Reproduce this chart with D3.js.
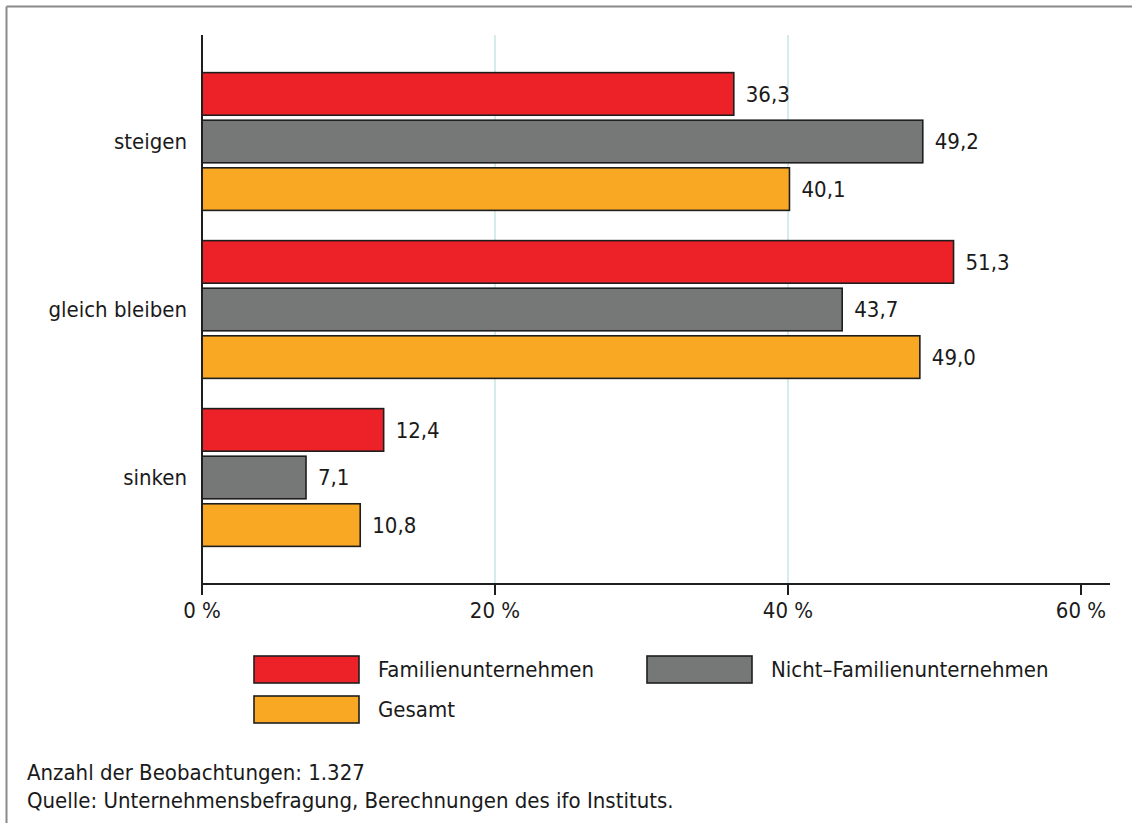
<!DOCTYPE html>
<html><head><meta charset="utf-8">
<script src="https://cdn.jsdelivr.net/npm/d3@7"></script>
<style>
html,body{margin:0;padding:0;background:#fff;}
text{font-family:"DejaVu Sans Condensed","Liberation Sans Narrow","Liberation Sans",sans-serif;fill:#1a1a1a;}
</style></head>
<body><svg id="c" width="1132" height="823"></svg>
<script>
const categories = ["steigen", "gleich bleiben", "sinken"];
const seriesNames = ["Familienunternehmen", "Nicht\u2013Familienunternehmen", "Gesamt"];
const familien = [36.3, 51.3, 12.4];
const nichtFamilien = [49.2, 43.7, 7.1];
const gesamt = [40.1, 49.0, 10.8];
const tickValues = [0, 20, 40, 60];
const colors = ["#ED2229", "#767878", "#F9A824"];
const footer = ["Anzahl der Beobachtungen: 1.327", "Quelle: Unternehmensbefragung, Berechnungen des ifo Instituts."];

const series = [familien, nichtFamilien, gesamt];
const svg = d3.select("#c");
const FS = 22;

// frame (top + left)
svg.append("line").attr("x1",6.5).attr("x2",1132).attr("y1",6.5).attr("y2",6.5).attr("stroke","#8a8a8a").attr("stroke-width",2);
svg.append("line").attr("x1",6.5).attr("x2",6.5).attr("y1",6.5).attr("y2",823).attr("stroke","#8a8a8a").attr("stroke-width",2);

const x = d3.scaleLinear().domain([0,60]).range([202,1081]);
const yTop = 35, yBot = 584;
const y0 = d3.scaleBand().domain(categories).range([yTop,yBot]).paddingInner(0.18).paddingOuter(0.224);
const y1 = d3.scaleBand().domain([0,1,2]).range([0,y0.bandwidth()]).paddingInner(0.105).paddingOuter(0);

// gridlines
svg.append("g").selectAll("line").data(tickValues.filter(d=>d>0 && d<60)).join("line")
  .attr("x1",d=>x(d)).attr("x2",d=>x(d)).attr("y1",yTop).attr("y2",yBot)
  .attr("stroke","#d6ecec").attr("stroke-width",2);

// bars
const groups = svg.append("g").selectAll("g").data(categories).join("g")
  .attr("transform",c=>`translate(0,${y0(c)})`);
groups.each(function(c,ci){
  const g = d3.select(this);
  series.forEach((s,si)=>{
    g.append("rect").attr("x",x(0)).attr("y",y1(si)).attr("width",x(s[ci])-x(0)).attr("height",y1.bandwidth())
      .attr("fill",colors[si]).attr("stroke","#1e1e1e").attr("stroke-width",1.6);
    g.append("text").attr("x",x(s[ci])+12).attr("y",y1(si)+y1.bandwidth()/2).attr("dy","0.35em")
      .attr("font-size",FS).text(d3.format(".1f")(s[ci]).replace(".",","));
  });
});

// y axis
svg.append("line").attr("x1",x(0)).attr("x2",x(0)).attr("y1",yTop).attr("y2",yBot+1).attr("stroke","#1e1e1e").attr("stroke-width",2);
svg.append("g").selectAll("text").data(categories).join("text")
  .attr("x",187).attr("y",c=>y0(c)+y0.bandwidth()/2).attr("dy","0.35em").attr("text-anchor","end")
  .attr("font-size",FS).text(d=>d);

// x axis
const xa = svg.append("g").attr("transform",`translate(0,${yBot})`);
xa.append("line").attr("x1",x(0)-1).attr("x2",1110).attr("stroke","#1e1e1e").attr("stroke-width",2);
xa.selectAll("line.t").data(tickValues).join("line").attr("class","t")
  .attr("x1",d=>x(d)).attr("x2",d=>x(d)).attr("y1",0).attr("y2",11).attr("stroke","#1e1e1e").attr("stroke-width",2);
xa.selectAll("text").data(tickValues).join("text")
  .attr("x",d=>x(d)).attr("y",34).attr("text-anchor","middle").attr("font-size",FS).text(d=>d+" %");

// legend
const legPos = [[254,656],[647,656],[254,696]];
seriesNames.forEach((n,i)=>{
  const [lx,ly]=legPos[i];
  svg.append("rect").attr("x",lx).attr("y",ly).attr("width",105).attr("height",27)
    .attr("fill",colors[i]).attr("stroke","#1e1e1e").attr("stroke-width",1.6);
  svg.append("text").attr("x",lx+124).attr("y",ly+13.5).attr("dy","0.35em").attr("font-size",FS).text(n);
});

// footer
footer.forEach((t,i)=>{
  svg.append("text").attr("x",27).attr("y",780+i*28).attr("font-size",FS).text(t);
});
</script></body></html>
